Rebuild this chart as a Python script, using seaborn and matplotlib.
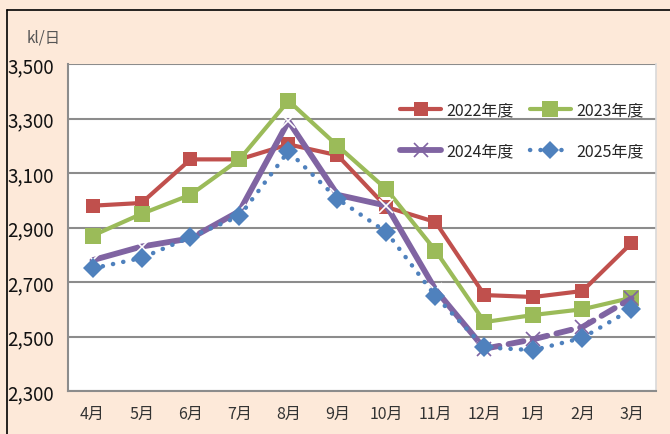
import matplotlib
matplotlib.use("Agg")
import matplotlib.pyplot as plt
import seaborn as sns
import pandas as pd
from matplotlib.lines import Line2D
from matplotlib.ticker import FuncFormatter, FixedLocator

months = ["4月", "5月", "6月", "7月", "8月", "9月", "10月", "11月", "12月", "1月", "2月", "3月"]
y2022 = [2980, 2990, 3150, 3150, 3205, 3165, 2975, 2920, 2652, 2645, 2667, 2843]
y2023 = [2870, 2950, 3020, 3150, 3365, 3200, 3040, 2815, 2553, 2579, 2600, 2642]
y2024 = [2780, 2830, 2860, 2960, 3290, 3020, 2980, 2672, 2455, 2490, 2535, 2640]
y2025 = [2750, 2788, 2865, 2942, 3180, 3005, 2883, 2648, 2460, 2450, 2495, 2600]
labels = ["2022年度", "2023年度", "2024年度", "2025年度"]
yticks = [2300, 2500, 2700, 2900, 3100, 3300, 3500]
ylabel_text = "kl/日"

sns.set_theme(style="white")
plt.rcParams["font.family"] = ["Noto Sans CJK JP", "DejaVu Sans"]

BG = "#FDE9D9"
RED = "#C0504D"
GREEN = "#9BBB59"
PURPLE = "#8064A2"
BLUE = "#4F81BD"
GRID = "#8C8C8C"

fig = plt.figure(figsize=(6.7, 4.35), dpi=100, facecolor=BG)
ax = fig.add_axes([68 / 670, 1 - 392 / 435, (656 - 68) / 670, (392 - 65) / 435])
ax.set_facecolor("white")

x = list(range(len(months)))
df = pd.DataFrame({"x": x, "y2022": y2022, "y2023": y2023, "y2024": y2024, "y2025": y2025})

sns.lineplot(data=df, x="x", y="y2022", ax=ax, color=RED, lw=3.0, marker="s",
             markersize=10, markeredgewidth=0, zorder=3)
sns.lineplot(data=df, x="x", y="y2023", ax=ax, color=GREEN, lw=3.0, marker="s",
             markersize=11.5, markeredgewidth=0, zorder=3)
# 2024: solid through December, dashed afterwards
d_a = df.iloc[:9]
d_b = df.iloc[8:]
sns.lineplot(data=d_a, x="x", y="y2024", ax=ax, color=PURPLE, lw=4.2, marker="x",
             markersize=10, markeredgewidth=1.2, zorder=4, solid_capstyle="round")
ax.plot(d_b["x"], d_b["y2024"], color=PURPLE, lw=4.2, marker="x", markersize=10,
        markeredgewidth=1.2, linestyle=(0, (2.6, 1.6)), dash_capstyle="round", zorder=4)
sns.lineplot(data=df, x="x", y="y2025", ax=ax, color=BLUE, lw=3.2, marker="D",
             markersize=10.5, markeredgewidth=0, zorder=5)
for l in ax.get_lines()[-1:]:
    l.set_linestyle((0, (0.05, 2.3)))
    l.set_dash_capstyle("round")

ax.set_xlim(-0.5, 11.5)
ax.set_ylim(2300, 3500)
ax.set_yticks(yticks)
ax.yaxis.set_major_formatter(FuncFormatter(lambda v, p: f"{int(v):,}"))
ax.set_xticks(x)
ax.set_xticklabels(months)
ax.xaxis.set_minor_locator(FixedLocator([i - 0.5 for i in range(13)]))
ax.tick_params(axis="x", which="major", length=0, pad=10, labelsize=11.5, colors="#333333")
ax.tick_params(axis="x", which="minor", length=5, width=1.2, color=GRID, direction="out")
ax.tick_params(axis="y", which="major", length=5, width=1.2, color=GRID, direction="out",
               labelsize=13.5, colors="#111111", pad=5)
ax.set_xlabel("")
ax.set_ylabel("")
ax.grid(axis="y", color=GRID, lw=1.5)
ax.set_axisbelow(True)
ax.spines["top"].set_visible(False)
ax.spines["right"].set_color("#D9D9D9")
ax.spines["right"].set_linewidth(1.2)
ax.spines["left"].set_color(GRID)
ax.spines["left"].set_linewidth(1.5)
ax.spines["bottom"].set_color(GRID)
ax.spines["bottom"].set_linewidth(1.5)

handles = [
    Line2D([], [], color=RED, lw=3, marker="s", markersize=10, markeredgewidth=0),
    Line2D([], [], color=PURPLE, lw=4.2, marker="x", markersize=10, markeredgewidth=1.2,
           solid_capstyle="round"),
    Line2D([], [], color=GREEN, lw=3, marker="s", markersize=11, markeredgewidth=0),
    Line2D([], [], color=BLUE, lw=3.2, marker="D", markersize=9, markeredgewidth=0,
           linestyle=(0, (0.05, 2.3)), dash_capstyle="round"),
]
leg = ax.legend(handles, [labels[0], labels[2], labels[1], labels[3]], ncol=2,
                loc="upper left", bbox_to_anchor=(0.54, 0.93), frameon=False,
                fontsize=11.5, handlelength=2.6, columnspacing=1.0, labelspacing=1.5,
                handletextpad=0.3)

fig.text(27 / 670, 1 - 38 / 435, ylabel_text, fontsize=11, color="#555555",
         ha="left", va="center")

# outer chart border (left and top edges)
fig.add_artist(Line2D([7 / 670, 7 / 670], [0, 1 - 11 / 435], transform=fig.transFigure,
                      color="black", lw=1.2))
fig.add_artist(Line2D([7 / 670, 1], [1 - 11 / 435, 1 - 11 / 435], transform=fig.transFigure,
                      color="black", lw=1.2))

fig.savefig("out.png", dpi=100, facecolor=BG)
